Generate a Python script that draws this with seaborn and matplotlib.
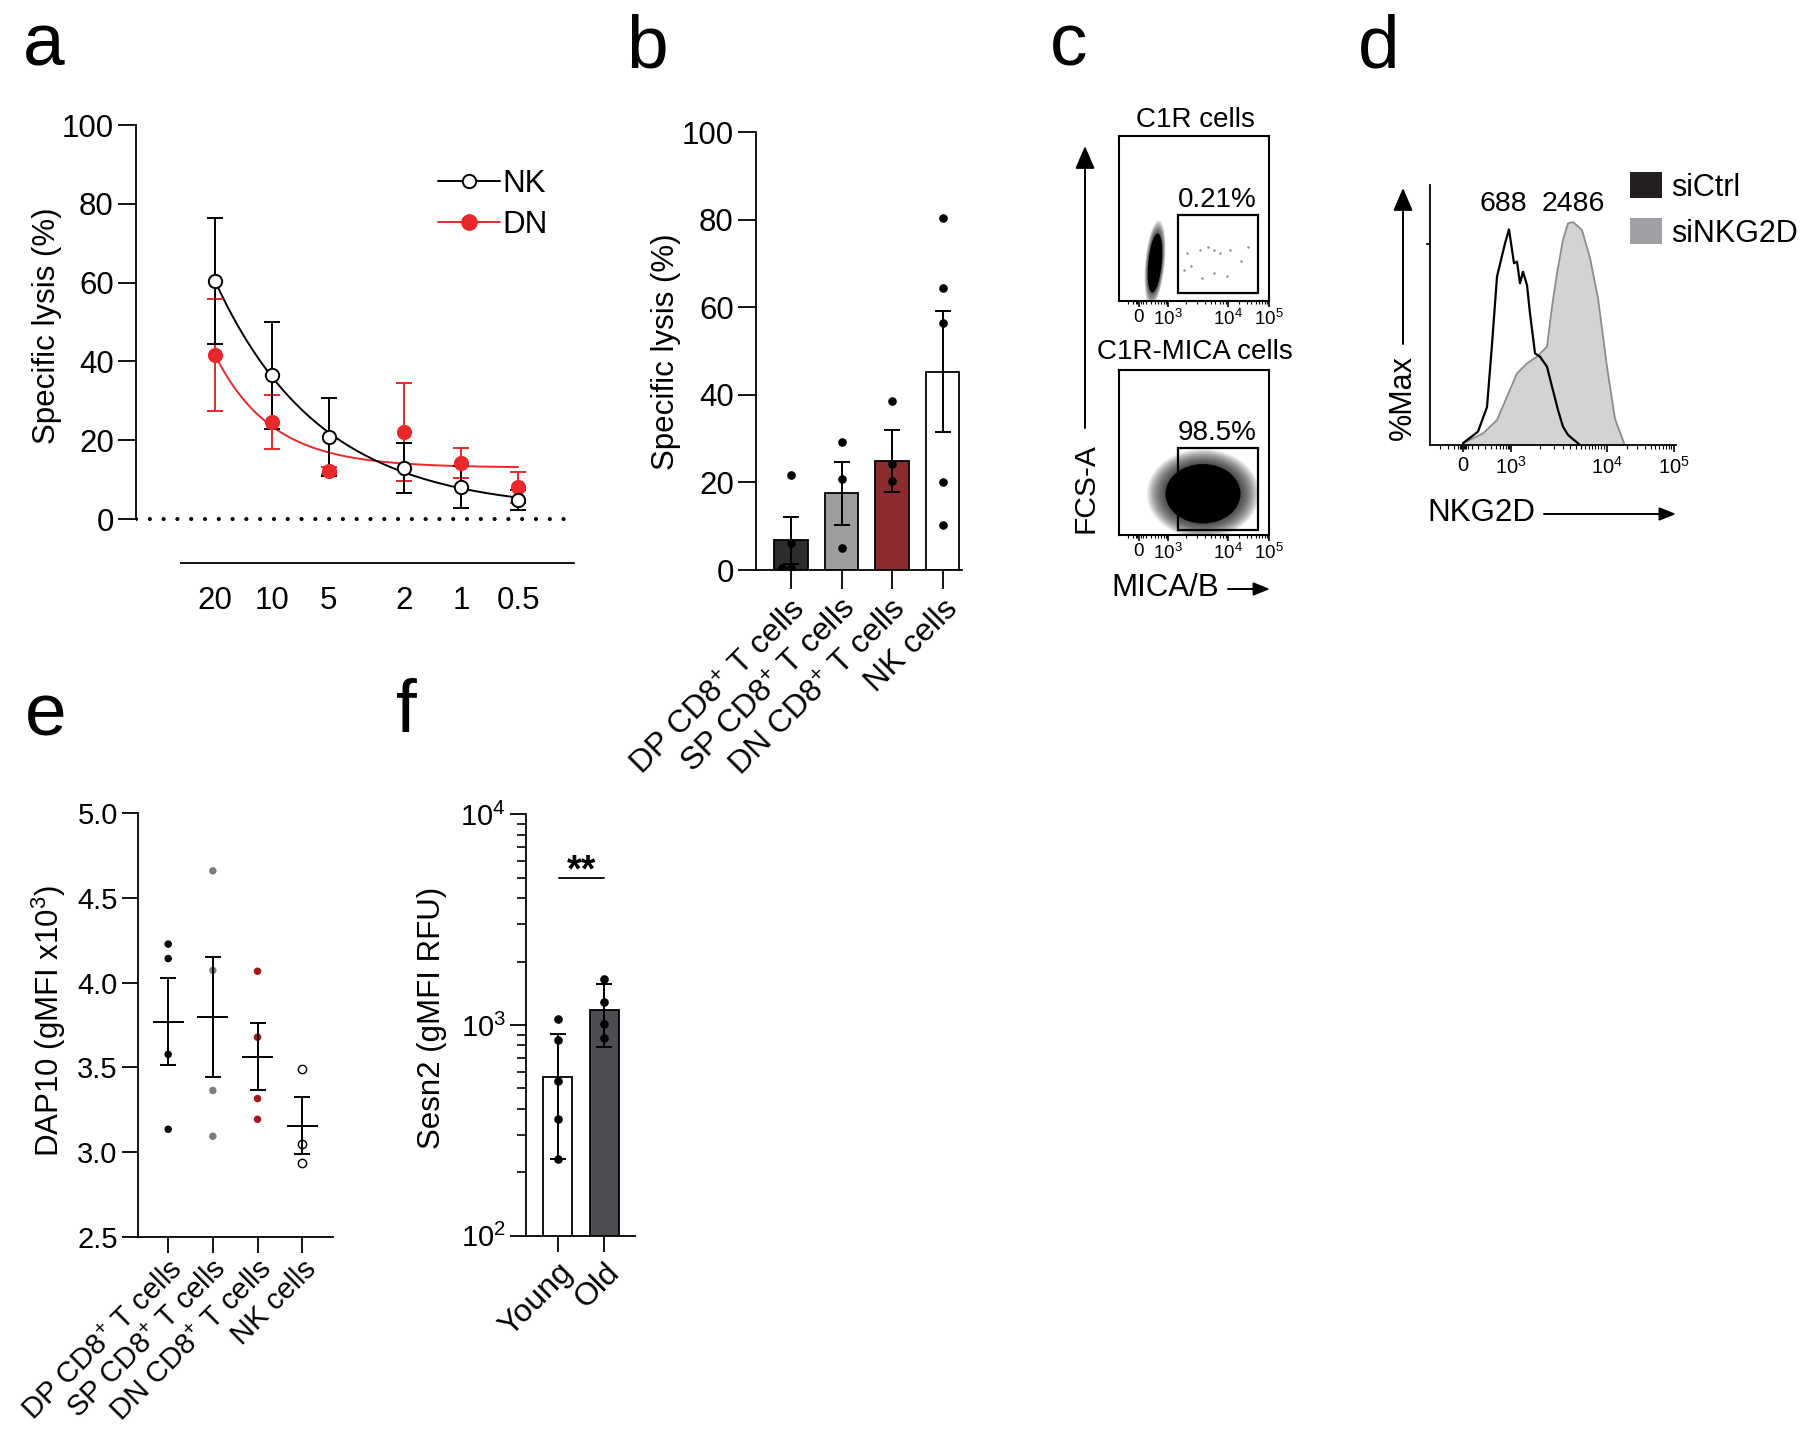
import numpy as np
import pandas as pd
import matplotlib
matplotlib.use("Agg")
import matplotlib.pyplot as plt
import seaborn as sns
from matplotlib.patches import Ellipse, Rectangle, Patch, FancyArrowPatch
from matplotlib.lines import Line2D
from matplotlib.ticker import NullLocator, FixedLocator

# ------------------------------------------------------------------ data
# (a) specific lysis vs E:T ratio
et_ratio = [20, 10, 5, 2, 1, 0.5]
et_labels = ["20", "10", "5", "2", "1", "0.5"]
nk_lysis = [60.4, 36.5, 20.8, 12.9, 8.1, 4.8]
nk_sem = [16.0, 13.6, 9.8, 6.4, 5.4, 2.6]
dn_lysis = [41.6, 24.6, 12.2, 22.1, 14.2, 8.0]
dn_sem = [14.3, 6.8, 0.9, 12.5, 3.7, 4.0]
series_a = ["NK", "DN"]

# (b) specific lysis per cell type
cell_types = ["DP CD8$^{+}$ T cells", "SP CD8$^{+}$ T cells",
              "DN CD8$^{+}$ T cells", "NK cells"]
lysis_mean = [6.8, 17.5, 24.9, 45.3]
lysis_sem = [5.4, 7.2, 7.0, 13.8]
lysis_dp = [21.8, 6.2, 0.5, 0.5]
lysis_sp = [29.3, 20.7, 5.0]
lysis_dn = [38.5, 24.1, 20.4]
lysis_nk = [80.4, 64.4, 56.3, 20.2, 10.2]

# (c) flow gates
gate_pct = ["0.21%", "98.5%"]
gate_titles = ["C1R cells", "C1R-MICA cells"]
flow_ticks = ["0", "10$^3$", "10$^4$", "10$^5$"]
c1r_gate_events_x = [0.45, 0.54, 0.59, 0.63, 0.67, 0.74, 0.43, 0.48, 0.63, 0.72, 0.55, 0.81, 0.86]
c1r_gate_events_y = [0.29, 0.31, 0.33, 0.31, 0.29, 0.31, 0.19, 0.21, 0.17, 0.15, 0.14, 0.24, 0.33]

# (d) NKG2D histograms (display channel, % of max)
sictrl_x = [33, 48, 57, 62, 67, 75, 79, 84, 87, 90, 93, 97, 100, 105, 110, 117, 122, 128, 133, 138, 149]
sictrl_y = [0.8, 6, 17, 45, 75.5, 90.4, 96.7, 81.5, 82.2, 72.5, 77.7, 71.7, 59, 41.1, 39.6, 35.1, 26.2, 15.7, 8.2, 4.5, 0.4]
sinkg2d_x = [33, 53, 67, 77, 87, 97, 107, 117, 122, 127, 133, 138, 143, 152, 160, 168, 177, 185, 194]
sinkg2d_y = [0.8, 5.2, 11.2, 21.7, 32.1, 36.6, 39.6, 44.1, 62, 77, 92, 99.4, 100, 96.4, 83.9, 65.9, 35, 11.7, 0.9]
d_gmfi = ["688", "2486"]
d_series = ["siCtrl", "siNKG2D"]

# (e) DAP10
dap10_dp = [4.227, 4.142, 3.577, 3.135]
dap10_sp = [4.659, 4.072, 3.364, 3.094]
dap10_dn = [4.067, 3.678, 3.316, 3.194]
dap10_nk = [3.488, 3.049, 2.934]

# (f) Sesn2
age_groups = ["Young", "Old"]
sesn2_mean = [569, 1177]
sesn2_sd = [337, 394]
sesn2_young = [1065, 850, 542, 358, 231]
sesn2_old = [1650, 1290, 1010, 870]
sig_label = "**"

# ------------------------------------------------------------------ style
W, H = 1800, 1432
sns.set_theme(style="ticks")
plt.rcParams["font.family"] = ["Liberation Sans", "DejaVu Sans"]
plt.rcParams.update({
    "mathtext.fontset": "custom",
    "mathtext.rm": "Liberation Sans",
    "mathtext.it": "Liberation Sans:italic",
    "mathtext.bf": "Liberation Sans:bold",
    "axes.linewidth": 1.3,
    "xtick.major.width": 1.3, "ytick.major.width": 1.3,
    "xtick.minor.width": 1.0, "ytick.minor.width": 1.0,
    "axes.edgecolor": "black", "xtick.color": "black", "ytick.color": "black",
    "text.color": "black", "axes.labelcolor": "black",
})

def box(x0, y0, x1, y1):
    return [x0 / W, 1 - y1 / H, (x1 - x0) / W, (y1 - y0) / H]

def fx(x):
    return x / W

def fy(y):
    return 1 - y / H

def arrow(p0, p1, hl=14, hw=6):
    fig.add_artist(FancyArrowPatch(
        (fx(p0[0]), fy(p0[1])), (fx(p1[0]), fy(p1[1])), transform=fig.transFigure,
        arrowstyle=f"-|>,head_length={hl},head_width={hw}", lw=1.4,
        color="black", mutation_scale=1, shrinkA=0, shrinkB=0))

fig = plt.figure(figsize=(18, 14.32), dpi=100)
RED = "#e8282b"

# ------------------------------------------------------------------ (a)
def decay_fit(x, y):
    x = np.asarray(x, float)
    y = np.asarray(y, float)
    t = np.log2(x.max() / x)
    best = None
    for k in np.linspace(0.05, 3.0, 591):
        M = np.column_stack([np.exp(-k * t), np.ones_like(t)])
        coef = np.linalg.lstsq(M, y, rcond=None)[0]
        r = ((M @ coef - y) ** 2).sum()
        if best is None or r < best[0]:
            best = (r, k, coef)
    _, k, (a, p) = best
    xs = np.geomspace(x.max(), x.min(), 200)
    ts = np.log2(x.max() / xs)
    return xs, p + a * np.exp(-k * ts)

axA = fig.add_axes(box(136, 125, 574, 562.5))
axA.set_xscale("log", base=2)
xs_nk, fit_nk = decay_fit(et_ratio, nk_lysis)
xs_dn, fit_dn = decay_fit(et_ratio, dn_lysis)
sns.lineplot(x=xs_dn, y=fit_dn, color=RED, lw=1.4, ax=axA, sort=False)
sns.lineplot(x=xs_nk, y=fit_nk, color="black", lw=1.4, ax=axA, sort=False)
axA.errorbar(et_ratio, dn_lysis, yerr=dn_sem, fmt="none", ecolor=RED,
             elinewidth=1.4, capsize=5.5, capthick=1.4, zorder=3)
axA.errorbar(et_ratio, nk_lysis, yerr=nk_sem, fmt="none", ecolor="black",
             elinewidth=1.4, capsize=5.5, capthick=1.4, zorder=3)
sns.scatterplot(x=et_ratio, y=dn_lysis, color=RED, s=120, edgecolor=RED,
                linewidth=0, ax=axA, zorder=4)
sns.scatterplot(x=et_ratio, y=nk_lysis, facecolor="white", edgecolor="black",
                s=92, linewidth=1.4, ax=axA, zorder=5)
axA.plot([52.3, 0.262], [0, 0], color="black", lw=3.0,
         ls=(0, (0.01, 3.3)), dash_capstyle="round", zorder=2)
axA.set_xlim(52.3, 0.253)
axA.set_ylim(-11.04, 100)
axA.spines[["top", "right"]].set_visible(False)
axA.spines["left"].set_bounds(0, 100)
axA.spines["bottom"].set_bounds(30.1, 0.253)
axA.set_yticks([0, 20, 40, 60, 80, 100])
axA.xaxis.set_major_locator(FixedLocator(et_ratio))
axA.xaxis.set_minor_locator(NullLocator())
axA.set_xticklabels(et_labels)
axA.tick_params(axis="y", length=13, width=1.3, labelsize=22.5, pad=3)
axA.tick_params(axis="x", length=0, labelsize=22.5, pad=17)
axA.set_xlabel("")
axA.set_ylabel("")
hA = [Line2D([], [], color="black", lw=1.4, marker="o", mfc="white", mec="black", ms=9.6, mew=1.4),
      Line2D([], [], color=RED, lw=1.4, marker="o", mfc=RED, mec=RED, ms=11)]
axA.legend(hA, series_a, loc="center left", bbox_to_anchor=(0.689, 0.818),
           frameon=False, fontsize=22.5, handlelength=1.98, handletextpad=0.1,
           borderpad=0, borderaxespad=0, labelspacing=0.35)
fig.text(fx(47), fy(326), "Specific lysis (%)", rotation=90, ha="center",
         va="center", fontsize=22.5)

# ------------------------------------------------------------------ (b)
axB = fig.add_axes(box(756, 132, 962, 570))
bar_colors = ["#2b2d30", "#9b9da0", "#9b1b1f", "#ffffff"]
sns.barplot(x=cell_types, y=lysis_mean, hue=cell_types, order=cell_types,
            hue_order=cell_types, palette=bar_colors, legend=False,
            edgecolor="black", linewidth=1.3, width=0.66, errorbar=None, ax=axB)
axB.errorbar(range(4), lysis_mean, yerr=lysis_sem, fmt="none", ecolor="black",
             elinewidth=1.4, capsize=5.8, capthick=1.4, zorder=3)
dfB = pd.DataFrame({
    "cell": [cell_types[0]] * len(lysis_dp) + [cell_types[1]] * len(lysis_sp)
            + [cell_types[2]] * len(lysis_dn) + [cell_types[3]] * len(lysis_nk),
    "lysis": lysis_dp + lysis_sp + lysis_dn + lysis_nk})
sns.swarmplot(data=dfB, x="cell", y="lysis", order=cell_types, color="black",
              size=6.2, ax=axB, zorder=4)
axB.set_xlim(-0.693, 3.386)
axB.set_ylim(0, 100)
axB.spines[["top", "right"]].set_visible(False)
axB.set_yticks([0, 20, 40, 60, 80, 100])
axB.set_xticks(range(4))
axB.set_xticklabels(cell_types, rotation=45, ha="right", va="top",
                    rotation_mode="anchor", fontsize=23)
axB.tick_params(axis="y", length=13, width=1.3, labelsize=22.5, pad=3)
axB.tick_params(axis="x", length=13.5, width=1.3, pad=4)
axB.set_xlabel("")
axB.set_ylabel("")
fig.text(fx(666), fy(352), "Specific lysis (%)", rotation=90, ha="center",
         va="center", fontsize=22.5)

# ------------------------------------------------------------------ (c)
flow_tick_pos = [0.133, 0.327, 0.727, 1.0]
flow_minor = [0.06, 0.09, 0.11, 0.12, 0.145, 0.16, 0.18, 0.21, 0.24, 0.26, 0.28, 0.30,
              0.31, 0.32, 0.448, 0.52, 0.57, 0.61, 0.64, 0.67, 0.69, 0.71,
              0.80, 0.85, 0.88, 0.91, 0.93, 0.95, 0.97, 0.985]

def cloud(ax, cx, cy, w, h, ang, grow, n=14, core_alpha=1.0):
    # soft-edged population: stacked translucent ellipses around a dense core
    for i in range(n):
        sc = grow - (grow - 1.0) * i / (n - 1)
        ax.add_patch(Ellipse((cx, cy), w * sc, h * sc, angle=ang,
                             color="black", alpha=0.07, lw=0))
    ax.add_patch(Ellipse((cx, cy), w, h, angle=ang, color="black",
                         alpha=core_alpha, lw=0))

for i, (y0, y1) in enumerate([(136, 301), (370, 535)]):
    ax = fig.add_axes(box(1119, y0, 1269, y1))
    ax.set_xlim(0, 1)
    ax.set_ylim(0, 1)
    for s in ax.spines.values():
        s.set_linewidth(1.5)
    ax.set_yticks([])
    ax.set_xticks(flow_tick_pos)
    ax.set_xticklabels(flow_ticks, fontsize=13.5)
    ax.xaxis.set_minor_locator(FixedLocator(flow_minor))
    ax.tick_params(axis="x", which="major", length=4, width=1.2, pad=2)
    ax.tick_params(axis="x", which="minor", length=2.5, width=0.8)
    if i == 0:
        cloud(ax, 0.24, 0.23, 0.09, 0.36, -6, 1.45)
        sns.scatterplot(x=c1r_gate_events_x, y=c1r_gate_events_y, s=3,
                        color="#888888", linewidth=0, ax=ax)
        gate = Rectangle((0.393, 0.048), 0.534, 0.473, fill=False, lw=1.6,
                         ec="black")
        ty = 0.612
    else:
        cloud(ax, 0.56, 0.25, 0.50, 0.36, 0, 1.5, n=16)
        gate = Rectangle((0.393, 0.03), 0.534, 0.497, fill=False, lw=1.6,
                         ec="black")
        ty = 0.618
    ax.add_patch(gate)
    ax.text(0.653, ty, gate_pct[i], ha="center", va="center", fontsize=20)
fig.text(fx(1195), fy(120), gate_titles[0], ha="center", va="center", fontsize=20)
fig.text(fx(1195), fy(352), gate_titles[1], ha="center", va="center", fontsize=20)
arrow((1085, 428), (1085, 146))
fig.text(fx(1085), fy(488), "FCS-A", rotation=90, ha="center", va="center",
         fontsize=21.5)
fig.text(fx(1111), fy(588), "MICA/B", ha="left", va="center", fontsize=22.5)
arrow((1228, 589), (1270, 589), hl=10, hw=4)

# ------------------------------------------------------------------ (d)
axD = fig.add_axes(box(1430, 185, 1676, 445))
axD.fill_between(sinkg2d_x, sinkg2d_y, 0, color="#d3d3d3", lw=0)
sns.lineplot(x=sinkg2d_x, y=sinkg2d_y, color="#8c8c8c", lw=1.3, ax=axD, sort=False)
sns.lineplot(x=sictrl_x, y=sictrl_y, color="black", lw=1.6, ax=axD, sort=False)
axD.set_xlim(0, 246)
axD.set_ylim(0, 116.6)
axD.spines[["top", "right"]].set_visible(False)
axD.set_xticks([33, 81, 177, 244])
axD.set_xticklabels(flow_ticks, fontsize=14.5)
axD.xaxis.set_minor_locator(FixedLocator(
    [10, 18, 24, 28, 30, 31, 32, 34, 35, 36, 38, 42, 48, 55, 61, 66, 70, 73, 76, 78, 79,
     110, 124, 133, 140, 146, 151, 155, 159, 162, 165, 168, 171, 174,
     197, 207, 215, 221, 225, 229, 233, 236, 239, 241]))
axD.set_yticks([90])
axD.set_yticklabels([])
axD.tick_params(axis="x", which="major", length=5, width=1.2, pad=3)
axD.tick_params(axis="x", which="minor", length=3, width=0.8)
axD.tick_params(axis="y", length=3, width=1.2)
axD.set_xlabel("")
axD.set_ylabel("")
fig.text(fx(1503), fy(204), d_gmfi[0], ha="center", va="center", fontsize=20.5)
fig.text(fx(1573), fy(204), d_gmfi[1], ha="center", va="center", fontsize=20.5)
hD = [Patch(facecolor="#231f20", edgecolor="none"),
      Patch(facecolor="#9d9fa2", edgecolor="none")]
fig.legend(hD, d_series, loc="upper left", bbox_to_anchor=(fx(1630), fy(172)),
           bbox_transform=fig.transFigure, frameon=False, fontsize=22,
           handlelength=1.05, handleheight=0.95, handletextpad=0.3,
           borderpad=0, borderaxespad=0, labelspacing=0.5)
arrow((1403, 344), (1403, 188))
fig.text(fx(1403), fy(398), "%Max", rotation=90, ha="center", va="center",
         fontsize=22)
fig.text(fx(1427), fy(513), "NKG2D", ha="left", va="center", fontsize=22.5)
arrow((1544, 514), (1676, 514), hl=10, hw=4)

# ------------------------------------------------------------------ (e)
axE = fig.add_axes(box(137.8, 813, 333, 1237))
e_groups = [dap10_dp, dap10_sp, dap10_dn, dap10_nk]
e_colors = ["#000000", "#7c7f80", "#a3161f"]
dfE = pd.DataFrame({
    "cell": sum([[cell_types[i]] * len(g) for i, g in enumerate(e_groups)], []),
    "dap10": sum(e_groups, [])})
dfE3 = dfE[dfE["cell"] != cell_types[3]]
sns.stripplot(data=dfE3, x="cell", y="dap10", hue="cell", order=cell_types,
              hue_order=cell_types[:3], palette=e_colors, jitter=False,
              size=5.4, linewidth=0, legend=False, ax=axE, zorder=3)
sns.stripplot(data=dfE[dfE["cell"] == cell_types[3]], x="cell", y="dap10",
              order=cell_types, color="white", edgecolor="black", linewidth=1.0,
              jitter=False, size=6.0, ax=axE, zorder=3)
e_mean = [np.mean(g) for g in e_groups]
e_sem = [np.std(g, ddof=1) / np.sqrt(len(g)) for g in e_groups]
axE.errorbar(range(4), e_mean, yerr=e_sem, fmt="none", ecolor="black",
             elinewidth=1.4, capsize=5.6, capthick=1.4, zorder=4)
axE.hlines(e_mean, np.arange(4) - 0.35, np.arange(4) + 0.35, color="black",
           lw=1.4, zorder=4)
axE.set_xlim(-0.68, 3.69)
axE.set_ylim(2.5, 5.0)
axE.spines[["top", "right"]].set_visible(False)
axE.set_yticks([2.5, 3.0, 3.5, 4.0, 4.5, 5.0])
axE.set_yticklabels(["2.5", "3.0", "3.5", "4.0", "4.5", "5.0"])
axE.set_xticks(range(4))
axE.set_xticklabels(cell_types, rotation=45, ha="right", va="top",
                    rotation_mode="anchor", fontsize=21)
axE.tick_params(axis="y", length=11.5, width=1.3, labelsize=21, pad=3)
axE.tick_params(axis="x", length=11.5, width=1.3, pad=1.5)
axE.set_xlabel("")
axE.set_ylabel("")
fig.text(fx(49), fy(1021), "DAP10 (gMFI x10$^{3}$)", rotation=90, ha="center",
         va="center", fontsize=22.5)

# ------------------------------------------------------------------ (f)
axF = fig.add_axes(box(526, 814.3, 635, 1235.7))
axF.set_yscale("log")
sns.barplot(x=age_groups, y=sesn2_mean, hue=age_groups, order=age_groups,
            hue_order=age_groups, palette=["#ffffff", "#4b4e52"], legend=False,
            edgecolor="black", linewidth=1.3, width=0.62, errorbar=None, ax=axF)
axF.errorbar(range(2), sesn2_mean, yerr=sesn2_sd, fmt="none", ecolor="black",
             elinewidth=1.4, capsize=5.6, capthick=1.4, zorder=3)
dfF = pd.DataFrame({"age": ["Young"] * len(sesn2_young) + ["Old"] * len(sesn2_old),
                    "sesn2": sesn2_young + sesn2_old})
sns.stripplot(data=dfF, x="age", y="sesn2", order=age_groups, color="black",
              jitter=False, size=6.2, ax=axF, zorder=4)
sig_line_y = 4990
axF.plot([0.03, 1.0], [sig_line_y, sig_line_y], color="black", lw=1.3)
axF.text(0.5, 5380, sig_label, ha="center", va="center", fontsize=27,
         fontweight="bold")
axF.set_ylim(100, 10000)
axF.set_xlim(-0.68, 1.66)
axF.spines[["top", "right"]].set_visible(False)
axF.set_yticks([100, 1000, 10000])
axF.set_yticklabels(["10$^2$", "10$^3$", "10$^4$"])
axF.yaxis.set_minor_locator(FixedLocator(
    [m * 10 ** e for e in (2, 3) for m in range(2, 10)]))
axF.set_xticks(range(2))
axF.set_xticklabels(age_groups, rotation=45, ha="right", va="top",
                    rotation_mode="anchor", fontsize=23)
axF.tick_params(axis="y", which="major", length=11.5, width=1.3, labelsize=21, pad=3)
axF.tick_params(axis="y", which="minor", length=6.7, width=1.2)
axF.tick_params(axis="x", length=11.5, width=1.3, pad=4)
axF.set_xlabel("")
axF.set_ylabel("")
fig.text(fx(432), fy(1018), "Sesn2 (gMFI RFU)", rotation=90, ha="center",
         va="center", fontsize=22.5)

# ------------------------------------------------------------------ panel letters
for lab, x, y in [("a", 23, 65), ("b", 626, 67), ("c", 1050, 65),
                  ("d", 1358, 67), ("e", 25, 735), ("f", 396, 732)]:
    fig.text(fx(x), fy(y), lab, ha="left", va="baseline", fontsize=54)

fig.savefig("out.png", dpi=100)
